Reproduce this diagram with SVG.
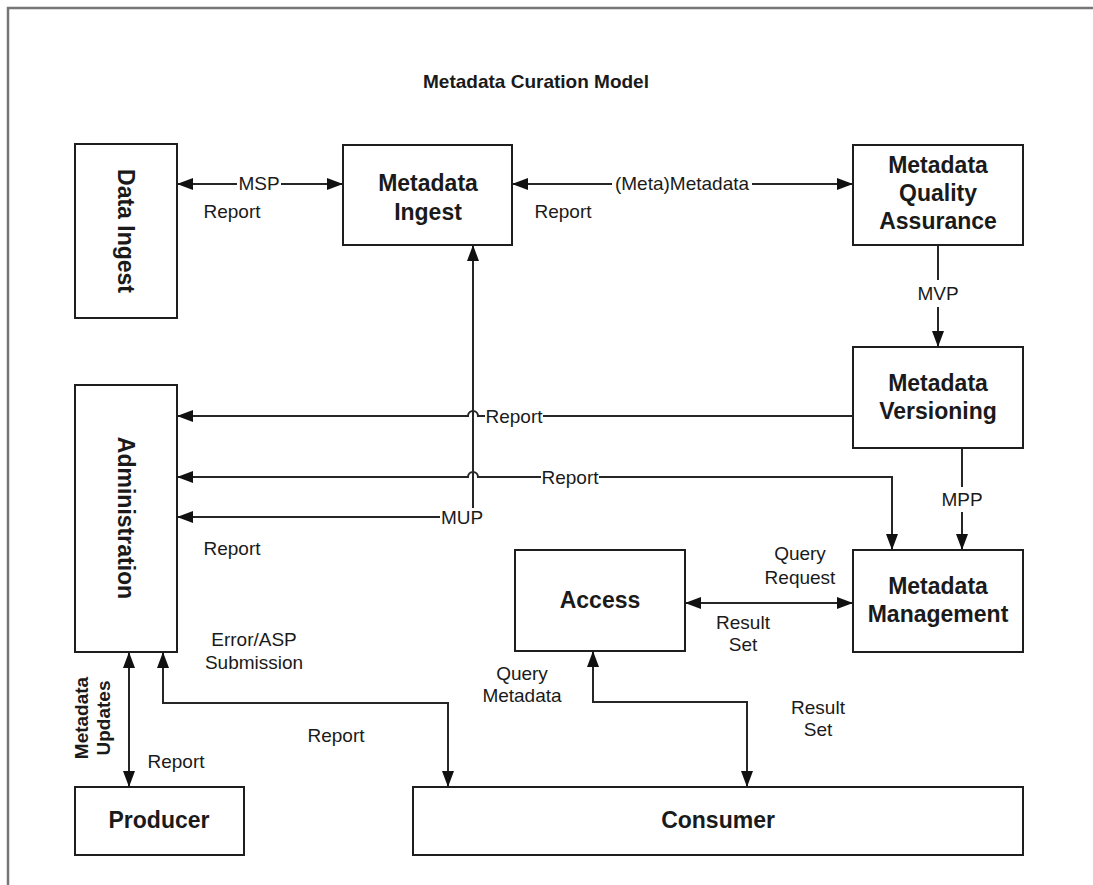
<svg xmlns="http://www.w3.org/2000/svg" width="1093" height="885" viewBox="0 0 1093 885">
  <defs>
    <marker id="ah" markerUnits="userSpaceOnUse" viewBox="0 0 16 12" refX="16" refY="6" markerWidth="16" markerHeight="12" orient="auto-start-reverse">
      <path d="M0,0 L16,6 L0,12 Z" fill="#111"/>
    </marker>
    <style>
      .box{fill:#fff;stroke:#1e1e1e;stroke-width:2}
      .nl{font-family:"Liberation Sans",Arial,sans-serif;font-weight:bold;font-size:23px;fill:#1a1a1a;text-anchor:middle}
      .el{font-family:"Liberation Sans",Arial,sans-serif;font-size:19px;fill:#1a1a1a;text-anchor:middle}
      .b{font-weight:bold}
      .c{fill:none;stroke:#262626;stroke-width:2}
      .bi{marker-start:url(#ah);marker-end:url(#ah)}
      .en{marker-end:url(#ah)}
      .bg{fill:#fff}
    </style>
  </defs>

  <rect x="0" y="0" width="1093" height="885" fill="#fff"/>
  <!-- outer frame, running past the right and bottom edges -->
  <rect x="8" y="8" width="1110" height="910" fill="none" stroke="#767676" stroke-width="2.5"/>

  <text x="536" y="88" class="el b">Metadata Curation Model</text>

  <!-- connectors -->
  <g id="connectors">
    <path class="c bi" d="M177,184 H343"/>
    <path class="c bi" d="M512,184 H853"/>
    <path class="c en" d="M938,245 V347"/>
    <path class="c en" d="M853,416 H478 A5,5 0 0 0 468,416 H177"/>
    <path class="c en" d="M962,448 V550"/>
    <path class="c bi" d="M177,477 H468 A5,5 0 0 1 478,477 H892 V550"/>
    <path class="c bi" d="M177,517 H473 V245"/>
    <path class="c bi" d="M129,652 V787"/>
    <path class="c bi" d="M163,652 V703 H448 V787"/>
    <path class="c bi" d="M685,603 H853"/>
    <path class="c bi" d="M593,651 V702 H747 V787"/>

    <!-- labels sitting on lines get a white backing -->
    <rect class="bg" x="237" y="175" width="44" height="17"/>
    <text x="259" y="190" class="el">MSP</text>
    <text x="232" y="218" class="el">Report</text>

    <rect class="bg" x="612" y="175" width="140" height="17"/>
    <text x="682" y="190" class="el">(Meta)Metadata</text>
    <text x="563" y="218" class="el">Report</text>

    <rect class="bg" x="916" y="280" width="44" height="27"/>
    <text x="938" y="300" class="el">MVP</text>

    <rect class="bg" x="485" y="408" width="58" height="17"/>
    <text x="514" y="423" class="el">Report</text>

    <rect class="bg" x="940" y="487" width="44" height="25"/>
    <text x="962" y="506" class="el">MPP</text>

    <rect class="bg" x="541" y="469" width="58" height="17"/>
    <text x="570" y="484" class="el">Report</text>

    <rect class="bg" x="440" y="508" width="44" height="18"/>
    <text x="462" y="524" class="el">MUP</text>
    <text x="232" y="555" class="el">Report</text>

    <text x="254" y="646" class="el">Error/ASP</text>
    <text x="254" y="669" class="el">Submission</text>
    <text transform="translate(82,718) rotate(-90)" y="6" class="el b">Metadata</text>
    <text transform="translate(104,718) rotate(-90)" y="6" class="el b">Updates</text>
    <text x="176" y="768" class="el">Report</text>
    <text x="336" y="742" class="el">Report</text>

    <text x="800" y="560" class="el">Query</text>
    <text x="800" y="584" class="el">Request</text>
    <text x="743" y="629" class="el">Result</text>
    <text x="743" y="651" class="el">Set</text>

    <text x="522" y="680" class="el">Query</text>
    <text x="522" y="702" class="el">Metadata</text>
    <text x="818" y="714" class="el">Result</text>
    <text x="818" y="736" class="el">Set</text>
  </g>

  <!-- nodes -->
  <g id="data-ingest">
    <rect class="box" x="75" y="144" width="102" height="174"/>
    <text transform="translate(126,231) rotate(90)" y="8" class="nl">Data Ingest</text>
  </g>
  <g id="metadata-ingest">
    <rect class="box" x="343" y="145" width="169" height="100"/>
    <text x="428" y="191" class="nl">Metadata</text>
    <text x="428" y="220" class="nl">Ingest</text>
  </g>
  <g id="metadata-quality-assurance">
    <rect class="box" x="853" y="145" width="170" height="100"/>
    <text x="938" y="173" class="nl">Metadata</text>
    <text x="938" y="201" class="nl">Quality</text>
    <text x="938" y="229" class="nl">Assurance</text>
  </g>
  <g id="metadata-versioning">
    <rect class="box" x="853" y="347" width="170" height="101"/>
    <text x="938" y="391" class="nl">Metadata</text>
    <text x="938" y="419" class="nl">Versioning</text>
  </g>
  <g id="administration">
    <rect class="box" x="75" y="385" width="102" height="267"/>
    <text transform="translate(126,518) rotate(90)" y="8" class="nl">Administration</text>
  </g>
  <g id="access">
    <rect class="box" x="515" y="550" width="170" height="101"/>
    <text x="600" y="608" class="nl">Access</text>
  </g>
  <g id="metadata-management">
    <rect class="box" x="853" y="550" width="170" height="102"/>
    <text x="938" y="594" class="nl">Metadata</text>
    <text x="938" y="622" class="nl">Management</text>
  </g>
  <g id="producer">
    <rect class="box" x="75" y="787" width="169" height="68"/>
    <text x="159" y="828" class="nl">Producer</text>
  </g>
  <g id="consumer">
    <rect class="box" x="413" y="787" width="610" height="68"/>
    <text x="718" y="828" class="nl">Consumer</text>
  </g>
</svg>
